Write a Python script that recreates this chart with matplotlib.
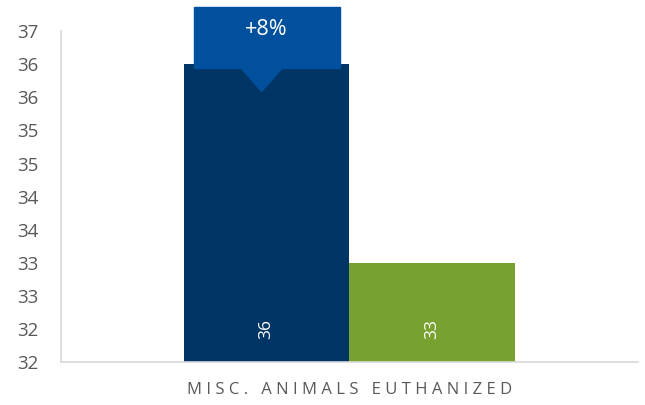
import math
import matplotlib
matplotlib.use("Agg")
import matplotlib.pyplot as plt
from matplotlib.ticker import FuncFormatter, MultipleLocator
from matplotlib.patches import Rectangle, Polygon

category = "MISC. ANIMALS EUTHANIZED"
series_values = [36.5, 33.5]
series_colors = ["#003566", "#78a22f"]
change_label = "+8%"
y_min, y_max = 32, 37

plt.rcParams['font.family'] = ['Open Sans', 'DejaVu Sans']

fig = plt.figure(figsize=(6.45, 4.05), dpi=100)
ax = fig.add_axes([0.0946, 0.106, 0.8944, 0.817])

xs = [0, 1]
bars = ax.bar(xs, series_values, width=1.0, color=series_colors, bottom=0)
ax.set_ylim(y_min, y_max)
ax.set_xlim(-1.24, 2.24)

ax.yaxis.set_major_locator(MultipleLocator(0.5))
ax.yaxis.set_major_formatter(FuncFormatter(lambda v, p: f"{int(math.floor(v + 1e-9))}"))
ax.tick_params(axis='y', length=0, labelsize=13.5, labelcolor="#595959", pad=16)
ax.set_xticks([])

for s in ['top', 'right']:
    ax.spines[s].set_visible(False)
for s in ['left', 'bottom']:
    ax.spines[s].set_color("#d9d9d9")
    ax.spines[s].set_linewidth(1.2)

for x, v in zip(xs, series_values):
    ax.text(x, 32.5, f"{int(v)}", rotation=90, color="white", ha='center', va='center', fontsize=12.5)

# callout
bx0, bx1 = xs[0] - 0.435, xs[0] + 0.44
box = Rectangle((bx0, 36.45), bx1 - bx0, 37.36 - 36.45, color="#00509d", clip_on=False, zorder=3)
ax.add_patch(box)
tri = Polygon([(xs[0] - 0.16, 36.46), (xs[0] + 0.1, 36.46), (xs[0] - 0.03, 36.09)], closed=True,
              color="#00509d", clip_on=False, zorder=3)
ax.add_patch(tri)
ax.text(xs[0], 37.03, change_label, color="white", ha='center', va='center', fontsize=15.5, zorder=4)

spaced = "\u2009\u200a".join(category)
ax.text(0.5, -0.085, spaced,
        transform=ax.get_xaxis_transform(), ha='center', va='center', fontsize=12, color="#595959",
        family=['Open Sans', 'DejaVu Sans'])

fig.savefig("out.png", dpi=100)
